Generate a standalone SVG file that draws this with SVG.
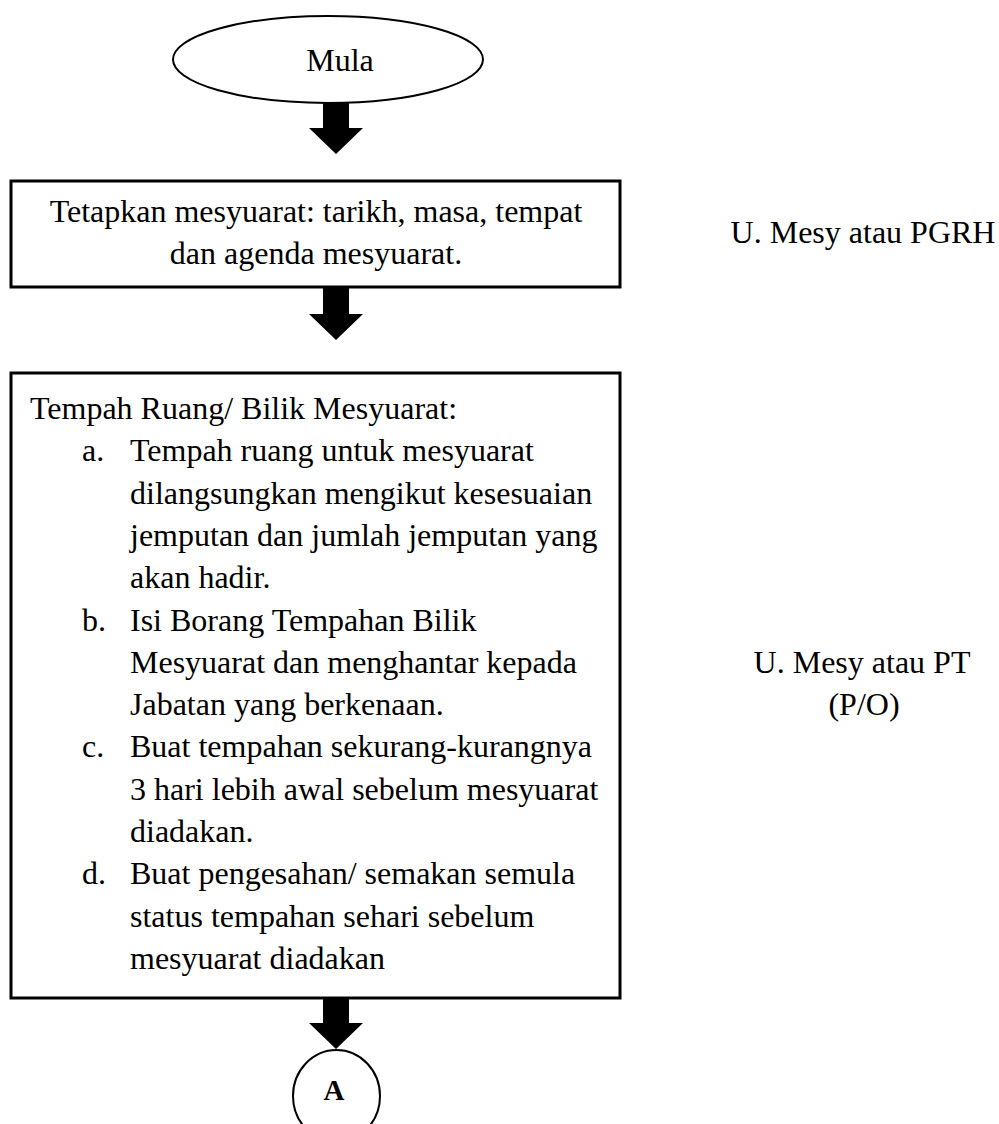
<svg xmlns="http://www.w3.org/2000/svg" width="999" height="1124" viewBox="0 0 999 1124">
<style>
text{font-family:"Liberation Serif","Times New Roman",serif;font-size:32px;fill:#000}
.c{text-anchor:middle}
.b{font-weight:bold;font-size:29px}
.box{fill:#fff;stroke:#000;stroke-width:3}
.ell{fill:#fff;stroke:#000;stroke-width:2}
.arr{fill:#000;stroke:none}
</style>
<rect width="999" height="1124" fill="#fff"/>
<g id="connectors">
<polygon class="arr" points="323,103 349,103 349,128 363,128 336,154 309,128 323,128"/>
<polygon class="arr" points="323,287 349,287 349,314 363,314 336,340 309,314 323,314"/>
<polygon class="arr" points="323,998 349,998 349,1023 363,1023 336,1049 309,1023 323,1023"/>
</g>
<g id="start">
<ellipse class="ell" cx="328" cy="59.5" rx="155" ry="43.5"/>
<text x="340" y="71" class="c">Mula</text>
</g>
<g id="step1">
<rect class="box" x="11" y="181" width="609" height="106"/>
<text x="316" y="222" class="c">Tetapkan mesyuarat: tarikh, masa, tempat</text>
<text x="316" y="264" class="c">dan agenda mesyuarat.</text>
</g>
<g id="role1">
<text x="863" y="243" class="c">U. Mesy atau PGRH</text>
</g>
<g id="step2">
<rect class="box" x="11" y="373" width="609" height="625"/>
<text x="30" y="419">Tempah Ruang/ Bilik Mesyuarat:</text>
<text x="82" y="461.3">a.</text>
<text x="130" y="461.3">Tempah ruang untuk mesyuarat</text>
<text x="130" y="503.6">dilangsungkan mengikut kesesuaian</text>
<text x="130" y="545.9">jemputan dan jumlah jemputan yang</text>
<text x="130" y="588.2">akan hadir.</text>
<text x="82" y="630.5">b.</text>
<text x="130" y="630.5">Isi Borang Tempahan Bilik</text>
<text x="130" y="672.8">Mesyuarat dan menghantar kepada</text>
<text x="130" y="715.1">Jabatan yang berkenaan.</text>
<text x="82" y="757.4">c.</text>
<text x="130" y="757.4">Buat tempahan sekurang-kurangnya</text>
<text x="130" y="799.7">3 hari lebih awal sebelum mesyuarat</text>
<text x="130" y="842">diadakan.</text>
<text x="82" y="884.3">d.</text>
<text x="130" y="884.3">Buat pengesahan/ semakan semula</text>
<text x="130" y="926.6">status tempahan sehari sebelum</text>
<text x="130" y="968.9">mesyuarat diadakan</text>
</g>
<g id="role2">
<text x="862" y="673" class="c">U. Mesy atau PT</text>
<text x="864" y="715" class="c">(P/O)</text>
</g>
<g id="connectorA">
<ellipse class="ell" cx="336.5" cy="1096" rx="43.5" ry="46"/>
<text x="334" y="1100" class="c b">A</text>
</g>
</svg>
